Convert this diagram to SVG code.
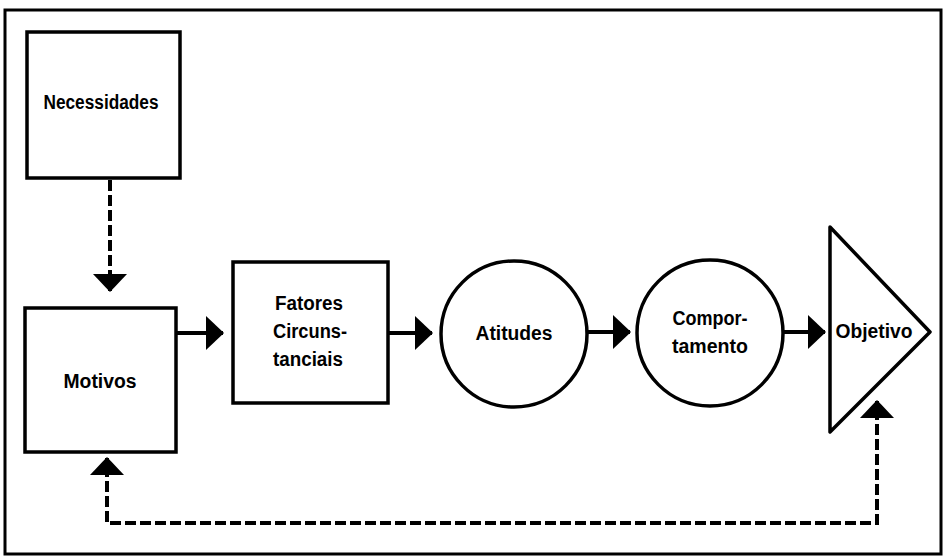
<svg xmlns="http://www.w3.org/2000/svg" width="943" height="557" viewBox="0 0 943 557">
<style>
.shape{fill:none;stroke:#000;stroke-width:3.5}
.lbl{font-family:"Liberation Sans",Arial,sans-serif;font-weight:bold;font-size:20px;fill:#000;text-anchor:middle}
.solid{fill:none;stroke:#000;stroke-width:4}
.dash{fill:none;stroke:#000;stroke-width:4;stroke-dasharray:11 4}
</style>
<defs>
<marker id="ah" markerUnits="userSpaceOnUse" viewBox="0 0 18 34" markerWidth="18" markerHeight="34" refX="17" refY="17" orient="auto">
<path d="M0,0 L18,17 L0,34 z" fill="#000"/>
</marker>
</defs>
<rect x="0" y="0" width="943" height="557" fill="#fff"/>
<rect x="5" y="10" width="936" height="544" fill="none" stroke="#000" stroke-width="3"/>
<g id="necessidades">
<rect class="shape" x="27" y="32" width="153" height="146"/>
<text class="lbl" x="101" y="109" textLength="115" lengthAdjust="spacingAndGlyphs">Necessidades</text>
</g>
<g id="motivos">
<rect class="shape" x="25" y="308" width="151" height="144"/>
<text class="lbl" x="100" y="388" textLength="73" lengthAdjust="spacingAndGlyphs">Motivos</text>
</g>
<g id="fatores">
<rect class="shape" x="233" y="262" width="155" height="141"/>
<text class="lbl" x="309" y="310" textLength="68" lengthAdjust="spacingAndGlyphs">Fatores</text>
<text class="lbl" x="310" y="338" textLength="74" lengthAdjust="spacingAndGlyphs">Circuns-</text>
<text class="lbl" x="308" y="366" textLength="70" lengthAdjust="spacingAndGlyphs">tanciais</text>
</g>
<g id="atitudes">
<circle class="shape" cx="514" cy="334" r="73"/>
<text class="lbl" x="514" y="340" textLength="77" lengthAdjust="spacingAndGlyphs">Atitudes</text>
</g>
<g id="comportamento">
<circle class="shape" cx="710" cy="333" r="73"/>
<text class="lbl" x="710" y="325" textLength="75" lengthAdjust="spacingAndGlyphs">Compor-</text>
<text class="lbl" x="710" y="353" textLength="76" lengthAdjust="spacingAndGlyphs">tamento</text>
</g>
<g id="objetivo">
<polygon class="shape" points="830,227 930,332 830,432" stroke-linejoin="round"/>
<text class="lbl" x="874" y="338" textLength="77" lengthAdjust="spacingAndGlyphs">Objetivo</text>
</g>
<g id="connectors">
<path class="dash" d="M110,180 V291" marker-end="url(#ah)"/>
<path class="solid" d="M176,333 H223" marker-end="url(#ah)"/>
<path class="solid" d="M388,333 H432" marker-end="url(#ah)"/>
<path class="solid" d="M588,332 H630" marker-end="url(#ah)"/>
<path class="solid" d="M783,332 H825" marker-end="url(#ah)"/>
<path class="dash" d="M107,522 V458" marker-end="url(#ah)"/>
<path class="dash" d="M110,523 H877 V401" marker-end="url(#ah)"/>
</g>
</svg>
